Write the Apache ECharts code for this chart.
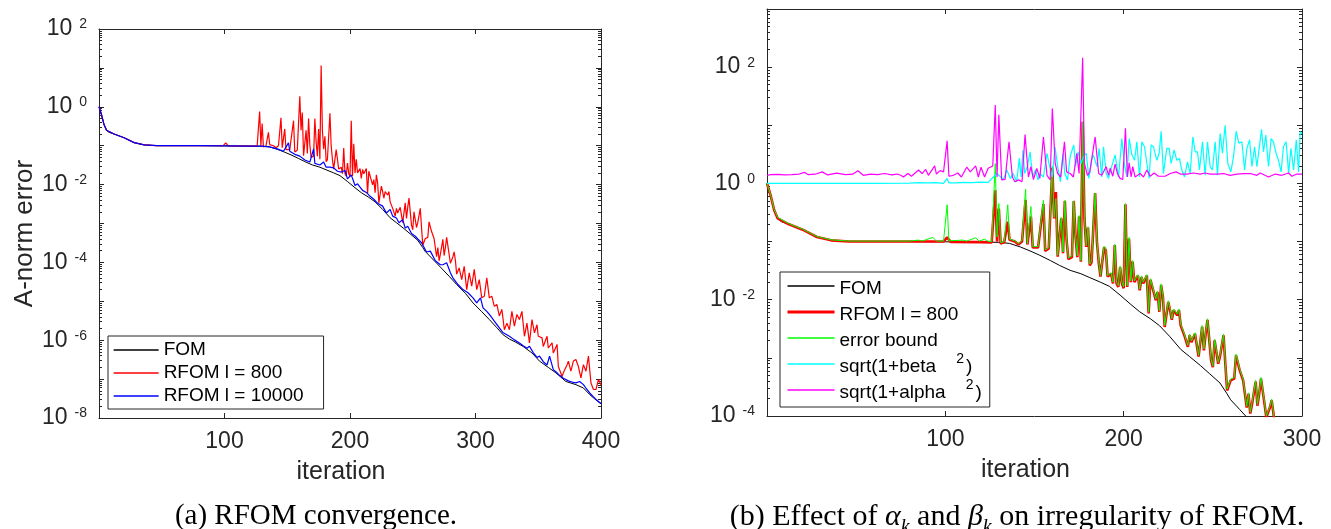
<!DOCTYPE html>
<html><head><meta charset="utf-8">
<script src="https://cdn.jsdelivr.net/npm/echarts@6/dist/echarts.min.js"></script>
<style>html,body{margin:0;padding:0;background:#fff}#c{width:1331px;height:529px}</style>
</head><body><div id="c"></div>
<script>
// ---------- DATA (iteration, A-norm error) ----------
const fom = [[0,1.0],[2,0.63],[4,0.35],[6,0.25],[8,0.22],[12,0.20],[20,0.16],[28,0.12],[36,0.105],[46,0.10],[60,0.10],[80,0.10],[100,0.099],[120,0.098],[130,0.097],[136,0.093],[142,0.081],[148,0.068],[153,0.058],[159,0.047],[164,0.039],[170,0.032],[176,0.028],[181,0.024],[187,0.020],[192,0.017],[198,0.012],[204,8.3e-3],[209,6.2e-3],[215,4.7e-3],[220,3.6e-3],[226,2.3e-3],[232,1.4e-3],[237,1.05e-3],[243,7.4e-4],[248,5.4e-4],[254,3.7e-4],[258,2.4e-4],[260,1.9e-4],[265,1.3e-4],[272,7.6e-5],[279,4.4e-5],[285,2.7e-5],[292,1.6e-5],[298,9.1e-6],[305,5.4e-6],[311,3.4e-6],[317,2.1e-6],[322,1.38e-6],[327,1.07e-6],[332,8.9e-7],[338,6.9e-7],[345,4.7e-7],[351,2.9e-7],[358,2.0e-7],[364,1.45e-7],[372,8.7e-8],[380,7.2e-8],[386,5.9e-8],[391,4.0e-8],[395,3.1e-8],[400,2.3e-8]];

const rfom800 = [[0,1.0],[2,0.63],[4,0.35],[6,0.25],[12,0.20],[20,0.16],[28,0.12],[36,0.105],[46,0.10],[80,0.10],[99,0.10],[101,0.118],[103,0.099],[120,0.098],[126,0.097],[128,0.76],[129,0.10],[130,0.37],[131,0.093],[133,0.097],[135,0.22],[136,0.107],[139,0.10],[141,0.089],[143,0.10],[145,0.52],[146,0.089],[148,0.27],[149,0.079],[152,0.079],[155,0.44],[156,0.069],[158,0.076],[160,1.86],[161,0.25],[162,0.71],[163,0.055],[165,0.25],[166,0.063],[167,0.50],[168,0.105],[169,0.050],[171,0.054],[172,0.50],[173,0.126],[174,0.054],[175,0.27],[176,0.045],[177,11.5],[178,0.25],[179,0.081],[180,0.174],[181,0.039],[182,0.044],[184,0.68],[185,0.10],[186,0.044],[187,0.025],[188,0.045],[189,0.079],[190,0.071],[191,0.025],[193,0.028],[194,0.019],[195,0.087],[196,0.019],[197,0.0166],[198,0.036],[199,0.019],[200,0.0158],[201,0.44],[202,0.0166],[203,0.112],[204,0.020],[205,0.045],[206,0.020],[208,0.026],[209,0.0145],[210,0.0245],[211,0.019],[213,0.026],[214,0.0058],[215,0.022],[217,0.0129],[218,0.0098],[219,0.0135],[220,0.0062],[221,0.0178],[222,0.0112],[223,0.0034],[225,0.0091],[226,0.0066],[227,0.0045],[228,0.0066],[230,0.0054],[231,0.0066],[232,0.0036],[234,0.00245],[235,0.00245],[236,0.00155],[237,0.00245],[238,0.00186],[240,0.0026],[241,0.00245],[242,0.00105],[244,0.0034],[245,0.00135],[246,0.0026],[247,0.0045],[249,9.1e-4],[250,6.9e-4],[251,0.002],[253,7.9e-4],[254,0.00105],[256,0.00245],[257,7.9e-4],[258,2.75e-4],[260,4.1e-4],[261,3.9e-4],[262,4.4e-4],[263,0.0011],[265,6.2e-4],[266,6.2e-4],[267,4.1e-4],[269,1.4e-4],[270,2.4e-4],[271,1.1e-4],[272,1.6e-4],[274,3.9e-4],[275,1.5e-4],[276,2.4e-4],[277,4.4e-4],[279,1.6e-4],[280,9.5e-5],[282,1.4e-4],[283,1.86e-4],[284,1.1e-4],[285,5.0e-5],[287,7.2e-5],[289,3.6e-5],[291,7.9e-5],[293,2.0e-5],[295,5.4e-5],[297,2.45e-5],[299,6.6e-5],[301,2.0e-5],[303,3.6e-5],[305,1.23e-5],[307,1.35e-5],[309,4.0e-5],[311,1.23e-5],[313,1.35e-5],[315,7.4e-6],[317,8.3e-6],[319,4.2e-6],[321,6.2e-6],[323,1.86e-6],[325,2.75e-6],[327,1.86e-6],[329,5.5e-6],[331,2.3e-6],[333,4.6e-6],[335,3.4e-6],[337,5.5e-6],[339,1.26e-6],[341,2.75e-6],[343,8.5e-7],[345,3.4e-6],[347,1.55e-6],[349,2.5e-6],[350,1.26e-6],[353,1.15e-6],[354,6.9e-7],[357,1.26e-6],[358,6.3e-7],[361,8.5e-7],[362,4.7e-7],[365,7.8e-7],[366,2.1e-7],[369,1.17e-7],[370,1.45e-7],[373,2.35e-7],[374,2.9e-7],[376,1.6e-7],[378,2.9e-7],[380,3.2e-7],[382,2.1e-7],[384,1.07e-7],[386,2.35e-7],[388,1.6e-7],[390,3.9e-7],[392,7.9e-8],[394,5.4e-8],[396,5.4e-8],[398,9.8e-8],[400,7.2e-8]];

const rfom10000 = [[0,1.0],[2,0.63],[4,0.35],[6,0.25],[12,0.20],[20,0.16],[28,0.12],[36,0.105],[46,0.10],[80,0.10],[100,0.099],[120,0.098],[130,0.097],[136,0.093],[142,0.083],[147,0.072],[151,0.118],[152,0.072],[156,0.06],[160,0.054],[164,0.043],[168,0.038],[171,0.083],[172,0.035],[176,0.032],[179,0.038],[181,0.028],[184,0.028],[187,0.027],[190,0.022],[193,0.021],[196,0.023],[198,0.014],[201,0.0178],[204,0.0095],[206,0.0105],[210,0.0071],[213,0.0063],[216,0.005],[219,0.0042],[222,0.0033],[226,0.0028],[229,0.00186],[232,0.0023],[234,0.00155],[237,0.00138],[239,0.00105],[242,0.00126],[244,7.6e-4],[246,8.5e-4],[249,5.5e-4],[252,4.7e-4],[254,4.0e-4],[257,3.2e-4],[261,1.85e-4],[264,1.95e-4],[268,1.1e-4],[272,8.7e-5],[274,8.7e-5],[277,9.8e-5],[280,5.4e-5],[282,4.0e-5],[286,2.7e-5],[290,2.0e-5],[294,1.66e-5],[298,1.23e-5],[301,9.1e-6],[304,1.23e-5],[306,6.8e-6],[309,5.5e-6],[312,4.2e-6],[315,3.1e-6],[318,2.3e-6],[322,1.55e-6],[325,1.38e-6],[327,1.26e-6],[331,1.02e-6],[335,8.5e-7],[338,7.2e-7],[341,6.2e-7],[343,7.0e-7],[346,4.8e-7],[349,3.6e-7],[351,3.9e-7],[354,2.8e-7],[357,2.3e-7],[359,3.9e-7],[362,1.75e-7],[365,1.45e-7],[367,1.25e-7],[370,1.05e-7],[374,9.0e-8],[378,8.2e-8],[380,8.0e-8],[383,8.7e-8],[386,7.2e-8],[388,5.9e-8],[391,4.4e-8],[394,3.5e-8],[396,3.0e-8],[400,2.35e-8]];

const errorBound = [[0,1.0],[2,0.64],[4,0.36],[6,0.26],[12,0.205],[20,0.163],[28,0.122],[36,0.107],[46,0.102],[80,0.102],[85,0.106],[87,0.102],[93,0.118],[95,0.102],[99,0.102],[101,0.43],[102,0.103],[110,0.106],[112,0.102],[117,0.116],[119,0.102],[122,0.11],[124,0.101],[126,0.1],[128,2.2],[129,0.12],[130,0.45],[131,0.096],[133,0.1],[135,0.43],[136,0.11],[139,0.103],[141,0.092],[143,0.104],[145,0.8],[146,0.092],[148,0.4],[149,0.082],[152,0.082],[155,0.51],[156,0.072],[158,0.079],[160,2.0],[161,0.26],[162,0.55],[163,0.058],[165,0.26],[166,0.066],[167,0.51],[168,0.11],[169,0.052],[171,0.057],[172,0.5],[173,0.13],[174,0.057],[175,0.28],[176,0.047],[177,11.5],[178,0.26],[179,0.085],[180,0.18],[181,0.041],[182,0.046],[184,0.68],[185,0.105],[186,0.046],[187,0.026],[188,0.047],[189,0.083],[190,0.074],[191,0.026],[193,0.029],[194,0.020],[195,0.09],[196,0.020],[197,0.0174],[198,0.038],[199,0.020],[200,0.0166],[201,0.45],[202,0.0174],[203,0.118],[204,0.021],[205,0.047],[206,0.021],[208,0.027],[209,0.0152],[210,0.0257],[211,0.020],[213,0.027],[214,0.0061],[215,0.023],[217,0.0135],[218,0.0103],[219,0.0142],[220,0.0065],[221,0.0187],[222,0.0118],[223,0.0036],[225,0.0096],[226,0.0069],[227,0.0047],[228,0.0069],[230,0.0057],[231,0.0069],[232,0.0038],[234,0.00257],[235,0.00257],[236,0.00163],[237,0.00257],[238,0.00195],[240,0.0027],[241,0.00257],[242,0.0011],[244,0.0036],[245,0.00142],[246,0.0027],[247,0.0047],[249,9.6e-4],[250,7.2e-4],[251,0.0021],[253,8.3e-4],[254,0.0011],[256,0.00257],[257,8.3e-4],[258,2.9e-4],[260,4.3e-4],[261,4.1e-4],[262,4.6e-4],[263,0.00116],[265,6.5e-4],[266,6.5e-4],[267,4.3e-4],[269,1.47e-4],[270,2.5e-4],[271,1.16e-4],[272,1.7e-4],[274,4.1e-4],[275,1.58e-4],[276,2.5e-4],[277,4.6e-4],[279,1.7e-4],[280,1.0e-4],[282,1.47e-4],[283,1.95e-4],[284,1.16e-4],[285,5.3e-5],[287,7.6e-5],[289,3.8e-5],[291,8.3e-5],[293,2.1e-5],[295,5.7e-5],[297,2.6e-5],[299,6.9e-5],[301,2.1e-5]];

const sqrtBeta = [[0,1.0],[20,1.0],[40,1.0],[60,1.0],[80,1.01],[85,1.03],[90,1.02],[95,1.03],[99,1.0],[101,1.22],[102,1.02],[106,1.02],[110,1.04],[115,1.03],[120,1.05],[124,1.04],[127,1.29],[129,1.48],[131,1.29],[132.5,1.15],[134.5,1.7],[136.5,1.22],[138,1.48],[140,1.07],[141.5,2.7],[142.5,1.29],[143.5,3.76],[144.5,1.48],[146,1.95],[147.5,3.5],[149,1.29],[150.5,1.7],[152,1.15],[153,1.48],[155,1.29],[157,3.3],[158.5,1.95],[160,1.29],[161.5,4.27],[163,1.95],[164.5,1.07],[166,3.3],[167,1.48],[168.5,1.15],[170,2.9],[172,4.6],[173,1.95],[174.5,3.5],[176,2.2],[177.5,2.9],[179,3.3],[180.5,1.22],[182,2.5],[183,3.1],[185,1.95],[186.2,4.0],[187.7,1.29],[188.7,4.27],[190.2,1.48],[191.5,1.22],[193.3,1.95],[195.2,3.1],[197.1,1.29],[199,5.9],[200.3,2.2],[201.8,1.29],[203.1,5.9],[204.6,3.1],[206.1,2.5],[207.4,5.2],[208.9,1.29],[210.2,5.2],[211.7,4.27],[213,2.2],[214.3,1.22],[215.4,4.6],[216.7,4.27],[218.6,2.5],[219.9,3.3],[221,7.9],[222.3,1.48],[224.2,4.0],[225.5,4.0],[226.6,2.2],[228.3,3.76],[229.8,2.5],[231.3,2.7],[232.6,1.7],[234.1,1.29],[235.8,2.34],[237.3,1.48],[238.8,6.3],[240.1,3.5],[241.4,3.5],[242.5,1.7],[244.2,5.2],[245.7,1.38],[247,5.2],[248.5,1.95],[249.8,1.7],[251.3,5.2],[252.6,1.38],[254.1,7.2],[255.4,3.3],[256.9,10],[258.4,2.2],[260.1,1.58],[261.6,2.9],[263.1,7.9],[264.6,4.9],[266.3,5.2],[267.8,1.7],[269.1,4.0],[270.6,5.6],[271.9,1.95],[273.4,4.27],[274.7,1.95],[276,4.0],[277.3,8.5],[278.4,3.5],[279.7,6.8],[281.2,1.95],[282.7,5.9],[284,5.2],[285.5,3.3],[286.8,2.5],[288.3,1.58],[289.6,4.27],[291.1,5.2],[292.5,1.48],[293.8,4.0],[295.3,1.7],[296.8,5.6],[298.1,1.58],[299,7.8],[300,7.2]];

const sqrtAlpha = [[0,1.37],[2,1.42],[6,1.43],[10,1.40],[14,1.42],[18,1.45],[21,1.55],[23,1.42],[27,1.44],[31,1.58],[34,1.40],[39,1.50],[44,1.42],[48,1.44],[51,1.65],[54,1.38],[58,1.45],[62,1.42],[66,1.48],[70,1.40],[73,1.45],[75,1.38],[76.5,1.29],[79,1.48],[81,1.33],[85,1.70],[87,1.48],[89,1.74],[90.5,1.38],[94,2.0],[95,1.45],[97,1.66],[99,1.58],[101,5.4],[102,1.33],[104.5,1.38],[107,1.51],[109,1.29],[112,1.9],[114,1.58],[117,2.0],[118.5,1.29],[120,1.9],[122,1.29],[124,1.82],[126.6,2.0],[128,22.4],[129,1.29],[130,15.1],[131.6,1.15],[133.5,1.17],[135.7,5.2],[137.6,1.29],[139,1.07],[141,1.15],[143,1.07],[144.7,6.9],[146.6,1.29],[148,1.95],[149.4,1.17],[151.3,1.82],[153,1.22],[155,6.3],[157,1.38],[158.8,1.15],[160,19.5],[161.6,2.2],[163,1.48],[164.7,1.29],[166.8,5.2],[168,1.58],[170,1.48],[171.8,1.29],[173.7,3.3],[175,1.48],[177,145],[178,2.2],[179.7,1.38],[181,1.58],[184,6.3],[186,1.48],[187.7,1.38],[190.2,1.95],[191.5,1.38],[192.4,1.82],[193.9,1.33],[195.2,2.14],[196.5,1.48],[198,1.22],[199.5,1.17],[201,8.9],[202.1,1.29],[203.1,2.26],[204.2,1.29],[205.1,1.95],[206.4,1.29],[209.2,1.48],[211.1,1.29],[213,1.7],[214.9,1.33],[217.1,1.51],[219.5,1.33],[223.3,1.33],[226.1,1.48],[229.4,1.58],[231.7,1.45],[235.4,1.45],[239.2,1.51],[242.9,1.45],[245.7,1.51],[248.5,1.45],[252.3,1.45],[256,1.48],[259.7,1.38],[263.5,1.45],[267.2,1.48],[271,1.48],[274.7,1.38],[276.6,1.51],[281.2,1.29],[285,1.45],[288.7,1.38],[292.5,1.51],[294.3,1.33],[297.1,1.45],[300,1.45]];

// ---------- TICKS ----------
const leftYMajor = [1e-8,1e-7,1e-6,1e-5,1e-4,1e-3,1e-2,1e-1,1,10,100];
const leftYLabels = [1e-8,1e-6,1e-4,1e-2,1,100];
const rightYMajor = [1e-4,1e-3,1e-2,1e-1,1,10,100,1000];
const rightYLabels = [1e-4,1e-2,1,100];
const leftXTicks = [100,200,300,400];
const rightXTicks = [100,200,300];

// ---------- STYLE ----------
const FONT = '"Liberation Sans", Arial, Helvetica, sans-serif';
const SERIF = '"Liberation Serif", "DejaVu Serif", serif';
const AX = '#262626';

function minorTicks(lo, hi) {
  const out = [];
  for (let e = lo; e < hi; e++) for (let m = 2; m <= 9; m++) out.push(Number((m * Math.pow(10, e)).toPrecision(3)));
  return out;
}
function supLabel(v) {
  const e = Math.round(Math.log10(v));
  return '{b|10}{s|' + e + '}';
}
const labelRich = {
  b: { fontSize: 23, fontFamily: FONT, color: AX, verticalAlign: 'bottom', lineHeight: 23 },
  s: { fontSize: 14, fontFamily: FONT, color: AX, verticalAlign: 'bottom', padding: [0, 0, 9, 7] }
};

function yAxesFor(grid, min, max, major, labels, lo, hi, name) {
  const minor = minorTicks(lo, hi);
  const base = { gridIndex: grid, type: 'log', logBase: 10, min: min, max: max, splitLine: { show: false } };
  return [
    Object.assign({}, base, {
      position: 'left',
      axisLine: { show: true, lineStyle: { color: AX, width: 1 } },
      axisTick: { show: true, inside: true, length: 5, customValues: major, lineStyle: { color: AX } },
      axisLabel: { show: true, customValues: labels, formatter: supLabel, rich: labelRich, margin: 12 },
      name: name || '', nameLocation: 'middle', nameGap: 58,
      nameTextStyle: { fontSize: 26, fontFamily: FONT, color: AX, padding: [0, 20, 0, 0] }
    }),
    Object.assign({}, base, {
      position: 'left', axisLine: { show: false },
      axisTick: { show: true, inside: true, length: 3, customValues: minor, lineStyle: { color: AX } },
      axisLabel: { show: false }
    }),
    Object.assign({}, base, {
      position: 'right', axisLine: { show: true, lineStyle: { color: AX, width: 1 } },
      axisTick: { show: true, inside: true, length: 5, customValues: major, lineStyle: { color: AX } },
      axisLabel: { show: false }
    }),
    Object.assign({}, base, {
      position: 'right', axisLine: { show: false },
      axisTick: { show: true, inside: true, length: 3, customValues: minor, lineStyle: { color: AX } },
      axisLabel: { show: false }
    })
  ];
}
function xAxesFor(grid, max, ticks) {
  const base = { gridIndex: grid, type: 'value', min: 0, max: max, splitLine: { show: false } };
  return [
    Object.assign({}, base, {
      position: 'bottom',
      axisLine: { show: true, lineStyle: { color: AX, width: 1 } },
      axisTick: { show: true, inside: true, length: 5, customValues: ticks, lineStyle: { color: AX } },
      axisLabel: { show: true, customValues: ticks, fontSize: 23, fontFamily: FONT, color: AX, margin: 12 },
      name: 'iteration', nameLocation: 'middle', nameGap: 42,
      nameTextStyle: { fontSize: 25, fontFamily: FONT, color: AX, padding: [0, 18, 0, 0] }
    }),
    Object.assign({}, base, {
      position: 'top',
      axisLine: { show: true, lineStyle: { color: AX, width: 1 } },
      axisTick: { show: true, inside: true, length: 5, customValues: ticks, lineStyle: { color: AX } },
      axisLabel: { show: false }
    })
  ];
}

function line(name, data, xi, yi, color, width, z) {
  return { type: 'line', name: name, data: data, xAxisIndex: xi, yAxisIndex: yi,
    symbol: 'none', showSymbol: false, silent: true, z: z,
    lineStyle: { color: color, width: width }, itemStyle: { color: color },
    emphasis: { disabled: true } };
}

const legendText = { fontFamily: FONT, fontSize: 19, color: '#000' };

const option = {
  animation: false,
  backgroundColor: '#fff',
  grid: [
    { left: 99, top: 29, width: 502, height: 389, show: false },
    { left: 767, top: 9, width: 535, height: 407, show: false }
  ],
  xAxis: [].concat(xAxesFor(0, 400, leftXTicks), xAxesFor(1, 300, rightXTicks)),
  yAxis: [].concat(
    yAxesFor(0, 1e-8, 100, leftYMajor, leftYLabels, -8, 2, 'A-norm error'),
    yAxesFor(1, 1e-4, 1000, rightYMajor, rightYLabels, -4, 3, '')
  ),
  legend: [
    {
      left: 108, top: 336, orient: 'vertical', selectedMode: false,
      data: ['FOM', 'RFOM l = 800', 'RFOM l = 10000'],
      itemWidth: 45, itemHeight: 14, itemGap: 3, padding: [4, 20, 3, 5],
      backgroundColor: '#fff', borderColor: AX, borderWidth: 1, borderRadius: 0,
      lineStyle: { width: 1.3 }, itemStyle: { opacity: 0 },
      textStyle: Object.assign({ lineHeight: 20 }, legendText)
    },
    {
      left: 780, top: 272, orient: 'vertical', selectedMode: false,
      data: ['FOM', { name: 'RFOM l = 800', lineStyle: { width: 3 } }, 'error bound', 'sqrt(1+beta^2)', 'sqrt(1+alpha^2)'],
      itemWidth: 47, itemHeight: 14, itemGap: 2, padding: [2, 8, 5, 6],
      backgroundColor: '#fff', borderColor: AX, borderWidth: 1, borderRadius: 0,
      lineStyle: { width: 1.3 }, itemStyle: { opacity: 0 },
      formatter: function (n) {
        const m = n.match(/^(sqrt\(1\+\w+)\^2\)$/);
        if (m) return '{t|' + m[1] + '}{s|2}{t|)}';
        return '{t|' + n + '}';
      },
      textStyle: Object.assign({ lineHeight: 24 }, legendText, {
        rich: {
          t: { fontFamily: FONT, fontSize: 19, color: '#000', lineHeight: 24, verticalAlign: 'bottom' },
          s: { fontFamily: FONT, fontSize: 14, color: '#000', verticalAlign: 'bottom', padding: [0, 2, 10, 20] }
        }
      })
    }
  ],
  series: [
    line('FOM', fom, 0, 0, '#000000', 1, 2),
    line('RFOM l = 800', rfom800, 0, 0, '#ff0000', 1.2, 3),
    line('RFOM l = 10000', rfom10000, 0, 0, '#0000ff', 1.2, 4),
    line('FOM', fom, 2, 4, '#000000', 1, 2),
    line('RFOM l = 800', rfom800, 2, 4, '#ff0000', 2.6, 3),
    line('error bound', errorBound, 2, 4, '#00ff00', 1, 4),
    line('sqrt(1+beta^2)', sqrtBeta, 2, 4, '#00ffff', 1.2, 5),
    line('sqrt(1+alpha^2)', sqrtAlpha, 2, 4, '#ff00ff', 1.2, 6)
  ],
  graphic: [
    { type: 'text', x: 316, y: 516, silent: true,
      style: { text: '(a) RFOM convergence.', fontFamily: SERIF, fontSize: 29, fill: '#000', align: 'center', verticalAlign: 'middle' } },
    { type: 'text', x: 1017, y: 516, silent: true,
      style: {
        text: '{n|(b) Effect of }{i|α}{k|k}{n| and }{i|β}{k|k}{n| on irregularity of RFOM.}',
        align: 'center', verticalAlign: 'middle', fill: '#000',
        rich: {
          n: { fontFamily: SERIF, fontSize: 30, fill: '#000', verticalAlign: 'bottom', lineHeight: 32 },
          i: { fontFamily: SERIF, fontSize: 30, fontStyle: 'italic', fill: '#000', verticalAlign: 'bottom', lineHeight: 32 },
          k: { fontFamily: SERIF, fontSize: 20, fontStyle: 'italic', fill: '#000', verticalAlign: 'bottom', lineHeight: 24, padding: [0, 0, -6, 0] }
        }
      } }
  ]
};

const chart = echarts.init(document.getElementById('c'), null, { renderer: 'canvas' });
chart.setOption(option);
</script></body></html>
